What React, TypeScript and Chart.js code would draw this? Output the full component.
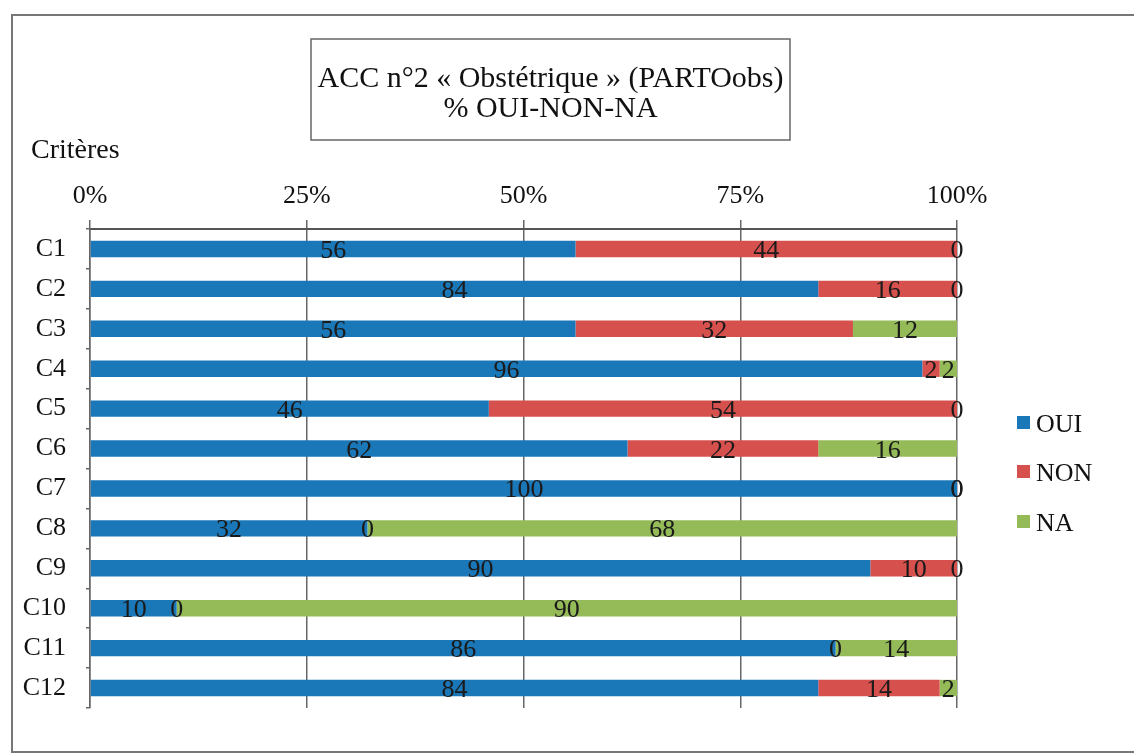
import { useEffect, useRef } from 'react';
import { Chart, registerables } from 'chart.js';

Chart.register(...registerables);

const categories = ['C1', 'C2', 'C3', 'C4', 'C5', 'C6', 'C7', 'C8', 'C9', 'C10', 'C11', 'C12'];
const oui = [56, 84, 56, 96, 46, 62, 100, 32, 90, 10, 86, 84];
const non = [44, 16, 32, 2, 54, 22, 0, 0, 10, 0, 0, 14];
const na = [0, 0, 12, 2, 0, 16, 0, 68, 0, 90, 14, 2];
const seriesNames = ['OUI', 'NON', 'NA'];
const seriesColors = ['#1a77b8', '#d6504e', '#94bb58'];
const titleLines = ['ACC n°2 « Obstétrique » (PARTOobs)', '% OUI-NON-NA'];
const yAxisTitle = 'Critères';

const FONT = '"Liberation Serif", "Times New Roman", serif';

const decorPlugin = {
  id: 'decor',
  beforeDraw(chart: any) {
    const ctx = chart.ctx;
    ctx.save();
    ctx.fillStyle = '#ffffff';
    ctx.fillRect(0, 0, chart.width, chart.height);
    // outer frame
    ctx.strokeStyle = '#777777';
    ctx.lineWidth = 2;
    ctx.strokeRect(12, 15, 1140, 737);
    // title box
    ctx.strokeStyle = '#666666';
    ctx.lineWidth = 1.5;
    ctx.strokeRect(311, 39, 479, 101);
    ctx.fillStyle = '#111111';
    ctx.textAlign = 'center';
    ctx.textBaseline = 'alphabetic';
    ctx.font = `30px ${FONT}`;
    ctx.fillText(titleLines[0], 550.5, 87);
    ctx.fillText(titleLines[1], 550.5, 117);
    // axis title
    ctx.textAlign = 'left';
    ctx.font = `28px ${FONT}`;
    ctx.fillText(yAxisTitle, 31, 158);
    ctx.restore();
  },
  afterDatasetsDraw(chart: any) {
    const ctx = chart.ctx;
    ctx.save();
    ctx.font = `26px ${FONT}`;
    ctx.fillStyle = '#1a1a1a';
    ctx.textAlign = 'center';
    ctx.textBaseline = 'alphabetic';
    chart.data.datasets.forEach((ds: any, di: number) => {
      const meta = chart.getDatasetMeta(di);
      meta.data.forEach((el: any, i: number) => {
        const cx = (el.x + el.base) / 2;
        ctx.fillText(String(ds.data[i]), cx, el.y + 9);
      });
    });
    ctx.restore();
  },
  afterDraw(chart: any) {
    const ctx = chart.ctx;
    ctx.save();
    ctx.font = `26px ${FONT}`;
    ctx.textAlign = 'left';
    ctx.textBaseline = 'alphabetic';
    const baselines = [432, 481, 531];
    seriesNames.forEach((name, i) => {
      ctx.fillStyle = seriesColors[i];
      ctx.fillRect(1017, baselines[i] - 16, 13, 13);
      ctx.fillStyle = '#111111';
      ctx.fillText(name, 1036, baselines[i]);
    });
    ctx.restore();
  },
};

export default function App() {
  const ref = useRef<HTMLCanvasElement>(null);
  useEffect(() => {
    if (!ref.current) return;
    const chart = new Chart(ref.current, {
      type: 'bar',
      data: {
        labels: categories,
        datasets: [
          { label: seriesNames[0], data: oui, backgroundColor: seriesColors[0] },
          { label: seriesNames[1], data: non, backgroundColor: seriesColors[1] },
          { label: seriesNames[2], data: na, backgroundColor: seriesColors[2] },
        ],
      },
      options: {
        indexAxis: 'y',
        responsive: false,
        animation: false,
        devicePixelRatio: 1,
        layout: { padding: { left: 0, top: 229 - 60, right: 177, bottom: 46 } },
        datasets: { bar: { categoryPercentage: 1, barPercentage: 0.41 } },
        plugins: {
          legend: { display: false },
          title: { display: false },
          tooltip: { enabled: false },
        },
        scales: {
          x: {
            type: 'linear',
            position: 'top',
            stacked: true,
            min: 0,
            max: 100,
            ticks: {
              stepSize: 25,
              callback: (v: any) => v + '%',
              font: { family: FONT, size: 26 },
              color: '#111111',
              padding: 8,
              maxRotation: 0,
            },
            grid: { color: '#666666', lineWidth: 1.5, tickLength: 9, drawTicks: true },
            border: { color: '#555555', width: 2 },
            afterFit: (s: any) => { s.height = 60; },
          },
          y: {
            type: 'category',
            stacked: true,
            ticks: { font: { family: FONT, size: 26 }, color: '#111111', padding: 20 },
            grid: { drawOnChartArea: false, tickLength: 4, color: '#666666', offset: true, lineWidth: 1.5 },
            border: { color: '#666666', width: 1.5 },
            afterFit: (s: any) => { s.width = 90; },
          },
        },
      } as any,
      plugins: [decorPlugin],
    });
    return () => chart.destroy();
  }, []);
  return (
    <div style={{ position: 'fixed', left: 0, top: 0, width: 1134, height: 754 }}>
      <canvas ref={ref} width={1134} height={754} style={{ width: 1134, height: 754 }} />
    </div>
  );
}
